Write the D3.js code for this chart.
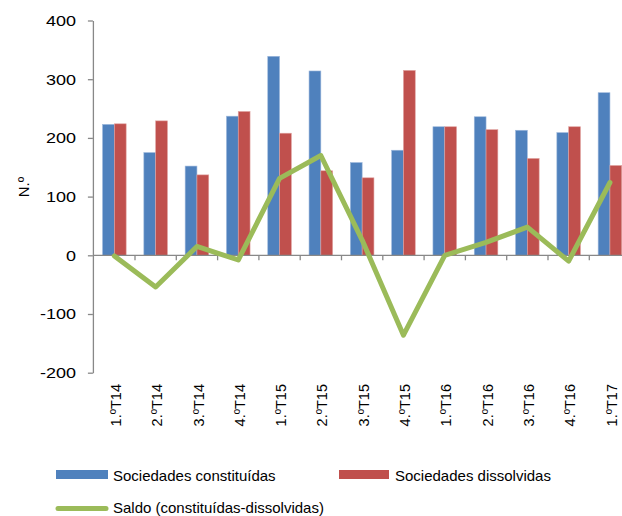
<!DOCTYPE html>
<html>
<head>
<meta charset="utf-8">
<script src="https://cdn.jsdelivr.net/npm/d3@7/dist/d3.min.js"></script>
<style>
  html, body { margin: 0; padding: 0; background: #fff; }
  svg { display: block; font-family: "Liberation Sans", Arial, sans-serif; }
</style>
</head>
<body>
<svg id="chart" width="622" height="516"></svg>
<script>
const categories = ["1.ºT14","2.ºT14","3.ºT14","4.ºT14","1.ºT15","2.ºT15","3.ºT15","4.ºT15","1.ºT16","2.ºT16","3.ºT16","4.ºT16","1.ºT17"];
const constituidas = [223, 175, 152, 237, 339, 314, 158, 179, 219, 236, 213, 209, 277];
const dissolvidas  = [224, 229, 137, 245, 208, 144, 132, 315, 219, 214, 165, 219, 153];
const saldo        = [-1, -54, 15, -8, 131, 170, 26, -136, 0, 22, 48, -10, 124];
const yTicks = [-200, -100, 0, 100, 200, 300, 400];
const seriesNames = ["Sociedades constituídas", "Sociedades dissolvidas", "Saldo (constituídas-dissolvidas)"];
const colors = ["#4F81BD", "#C0504D", "#9BBB59"];

const svg = d3.select("#chart");
const axisColor = "#888888";

const x0 = 93.7, step = 41.3;
const x = d3.scaleBand().domain(categories).range([x0, x0 + step * categories.length]).padding(0);
const y = d3.scaleLinear().domain([-200, 400]).range([372.7, 20.5]);
const bw = x.bandwidth() / 3.5;

// Bars
const g = svg.append("g");
g.selectAll("rect.c").data(constituidas).enter().append("rect")
  .attr("class", "c")
  .attr("x", (d, i) => x(categories[i]) + 0.75 * bw)
  .attr("width", bw)
  .attr("y", d => y(Math.max(0, d)))
  .attr("height", d => Math.abs(y(d) - y(0)))
  .attr("fill", colors[0])
  .attr("stroke", "#9db8dc").attr("stroke-width", 0.6);
g.selectAll("rect.d").data(dissolvidas).enter().append("rect")
  .attr("class", "d")
  .attr("x", (d, i) => x(categories[i]) + 1.75 * bw)
  .attr("width", bw)
  .attr("y", d => y(Math.max(0, d)))
  .attr("height", d => Math.abs(y(d) - y(0)))
  .attr("fill", colors[1])
  .attr("stroke", "#e0a3a1").attr("stroke-width", 0.6);

// X axis (at zero)
const xa = svg.append("g");
xa.append("line").attr("x1", x0).attr("x2", 640).attr("y1", y(0)).attr("y2", y(0))
  .attr("stroke", axisColor).attr("stroke-width", 1.3);
xa.selectAll("line.t").data(categories.slice(1)).enter().append("line")
  .attr("class", "t")
  .attr("x1", d => x(d)).attr("x2", d => x(d))
  .attr("y1", y(0)).attr("y2", y(0) + 5)
  .attr("stroke", axisColor).attr("stroke-width", 1.3);

// Y axis
const ya = svg.append("g").attr("transform", `translate(${x0 - 0.8},0)`)
  .call(d3.axisLeft(y).tickValues(yTicks).tickSize(5).tickSizeOuter(0).tickFormat(d => String(d)));
ya.select(".domain").attr("stroke", axisColor).attr("stroke-width", 1.3);
ya.selectAll(".tick line").attr("stroke", axisColor).attr("stroke-width", 1.3);
ya.selectAll(".tick text")
  .attr("x", 0)
  .attr("transform", "translate(-17,0) scale(1.2,1)")
  .attr("fill", "#000")
  .style("font-size", "15px")
  .style("font-family", "'Liberation Sans', Arial, sans-serif");

// Line
const line = d3.line()
  .x((d, i) => x(categories[i]) + x.bandwidth() / 2)
  .y(d => y(d));
svg.append("path").datum(saldo)
  .attr("d", line)
  .attr("fill", "none")
  .attr("stroke", colors[2])
  .attr("stroke-width", 5)
  .attr("stroke-linejoin", "round")
  .attr("stroke-linecap", "round");

// X labels
svg.selectAll("text.xl").data(categories).enter().append("text")
  .attr("class", "xl")
  .attr("transform", d => `translate(${x(d) + x.bandwidth() / 2 + 1.5},384) rotate(-90)`)
  .attr("text-anchor", "end")
  .attr("dy", "0.35em")
  .style("font-size", "14.5px")
  .text(d => d);

// Y title
svg.append("text")
  .attr("transform", "translate(29,187) rotate(-90)")
  .attr("text-anchor", "middle")
  .style("font-size", "15px")
  .text("N.º");

// Legend
const leg = svg.append("g").style("font-size", "15px");
leg.append("rect").attr("x", 56).attr("y", 470).attr("width", 52).attr("height", 9).attr("fill", colors[0]);
leg.append("text").attr("x", 113).attr("y", 481).text(seriesNames[0]);
leg.append("rect").attr("x", 339).attr("y", 470).attr("width", 50).attr("height", 9).attr("fill", colors[1]);
leg.append("text").attr("x", 395).attr("y", 481).text(seriesNames[1]);
leg.append("line").attr("x1", 58).attr("x2", 106).attr("y1", 508.5).attr("y2", 508.5)
  .attr("stroke", colors[2]).attr("stroke-width", 5).attr("stroke-linecap", "round");
leg.append("text").attr("x", 113).attr("y", 513).text(seriesNames[2]);
</script>
</body>
</html>
